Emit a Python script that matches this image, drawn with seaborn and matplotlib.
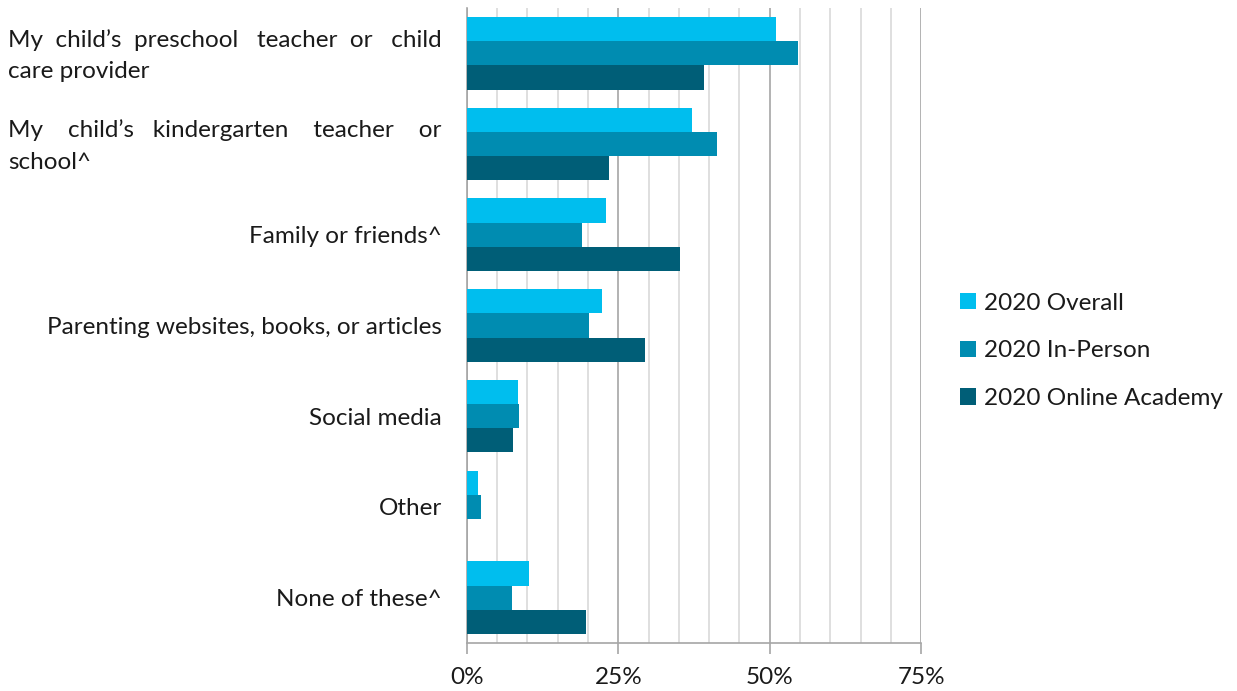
import matplotlib
matplotlib.use("Agg")
import matplotlib.pyplot as plt
import matplotlib.transforms as mtransforms
import seaborn as sns
import pandas as pd
from matplotlib.ticker import MultipleLocator, FuncFormatter

categories = [
    "My  child\u2019s  preschool   teacher  or   child\ncare provider",
    "My    child\u2019s   kindergarten    teacher    or\nschool^",
    "Family or friends^",
    "Parenting websites, books, or articles",
    "Social media",
    "Other",
    "None of these^",
]
series = ["2020 Overall", "2020 In-Person", "2020 Online Academy"]
overall = [51.0, 37.1, 22.9, 22.4, 8.5, 1.8, 10.3]
in_person = [54.7, 41.3, 19.1, 20.2, 8.6, 2.3, 7.5]
online = [39.1, 23.5, 35.2, 29.4, 7.7, 0.0, 19.6]
colors = ["#00BEEE", "#008CB1", "#005E77"]

rows = []
for s, vals in zip(series, [overall, in_person, online]):
    for c, v in zip(categories, vals):
        rows.append({"category": c, "series": s, "value": v})
df = pd.DataFrame(rows)

sns.set_theme(style="white")
plt.rcParams["font.family"] = ["Lato", "DejaVu Sans"]

FS = 17.5
fig = plt.figure(figsize=(12.37, 6.91), dpi=100)
ax = fig.add_axes([0.3773, 0.0695, 0.3675, 0.919])

sns.barplot(data=df, y="category", x="value", hue="series", order=categories,
            hue_order=series, palette=colors, orient="h", width=0.8,
            saturation=1, linewidth=0, ax=ax, zorder=3)

ax.set_xlim(0, 75)
ax.set_ylim(len(categories) - 0.5, -0.5)
ax.xaxis.set_major_locator(MultipleLocator(25))
ax.xaxis.set_minor_locator(MultipleLocator(5))
ax.xaxis.set_major_formatter(FuncFormatter(lambda v, p: f"{int(v)}%"))
ax.grid(True, axis="x", which="minor", color="#D9D9D9", linewidth=1.2, zorder=0)
ax.grid(True, axis="x", which="major", color="#A6A6A6", linewidth=1.2, zorder=0)
ax.set_axisbelow(True)

for side in ["top", "right"]:
    ax.spines[side].set_visible(False)
for side in ["left", "bottom"]:
    ax.spines[side].set_color("#A6A6A6")
    ax.spines[side].set_linewidth(1.2)

ax.tick_params(axis="x", which="major", bottom=True, length=8, width=1.2,
               color="#A6A6A6", labelsize=FS, labelcolor="#1A1A1A", pad=9)
ax.tick_params(axis="x", which="minor", bottom=False)
ax.tick_params(axis="y", left=False, labelsize=FS, labelcolor="#1A1A1A", pad=12)
shift = mtransforms.ScaledTranslation(0, 5 / 100, fig.dpi_scale_trans)
for lbl in ax.get_yticklabels():
    lbl.set_multialignment("left")
    lbl.set_linespacing(1.6)
    if "\n" in lbl.get_text():
        lbl.set_transform(lbl.get_transform() + shift)

ax.set_xlabel("")
ax.set_ylabel("")

leg = ax.legend(loc="center left", bbox_to_anchor=(1.037, 0.46), frameon=False,
                fontsize=FS, handlelength=0.65, handleheight=0.65, handletextpad=0.35,
                labelspacing=1.1, labelcolor="#1A1A1A")

fig.savefig("out.png", dpi=100)
